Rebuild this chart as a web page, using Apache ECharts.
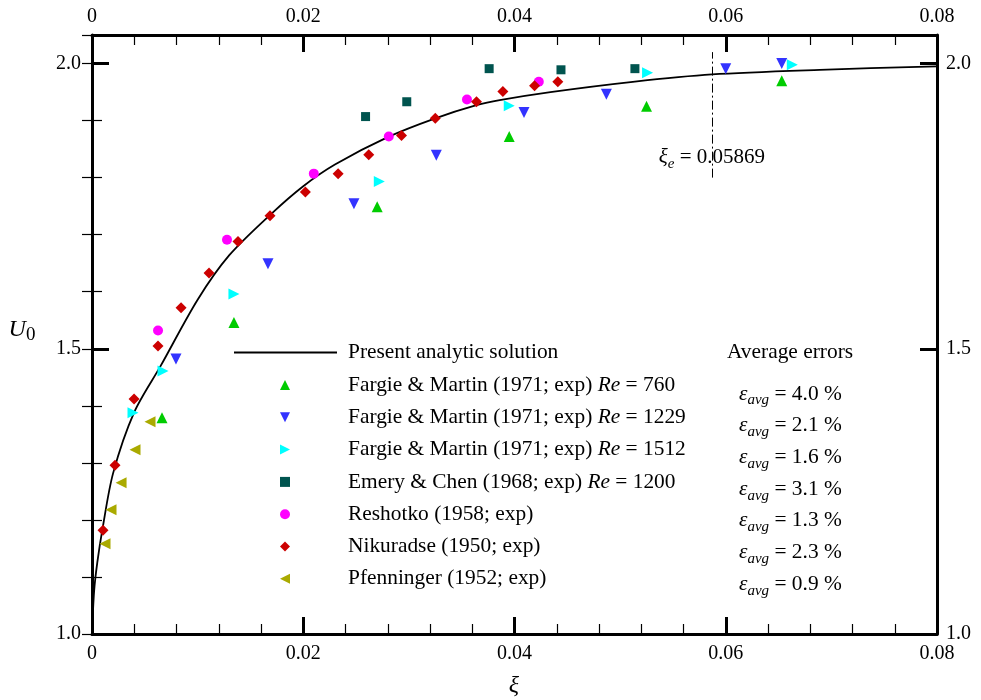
<!DOCTYPE html>
<html><head><meta charset="utf-8">
<script src="https://cdn.jsdelivr.net/npm/echarts@6/dist/echarts.min.js"></script>
<style>html,body{margin:0;padding:0;background:#fff}#c{width:981px;height:700px}</style>
</head><body><div id="c"></div>
<script>
const FONT = '"Liberation Serif","Times New Roman",serif';

// ---- data ----
const curveX = [0, 0.0002, 0.0005, 0.001, 0.002, 0.004, 0.0065, 0.010, 0.013, 0.017, 0.020, 0.023, 0.028, 0.0325, 0.0364, 0.0386, 0.0434, 0.0512, 0.0587, 0.0689, 0.080];
const curveY = [1.0, 1.075, 1.125, 1.185, 1.282, 1.389, 1.470, 1.586, 1.664, 1.737, 1.785, 1.823, 1.871, 1.904, 1.927, 1.936, 1.950, 1.968, 1.981, 1.989, 1.995];

const fm760X = [0.00663, 0.01344, 0.0270, 0.0395, 0.0525, 0.0653];
const fm760Y = [1.379, 1.546, 1.749, 1.872, 1.925, 1.970];
const fm1229X = [0.00795, 0.01666, 0.0248, 0.0326, 0.0409, 0.0487, 0.0600, 0.0653];
const fm1229Y = [1.482, 1.649, 1.754, 1.839, 1.914, 1.946, 1.991, 2.000];
const fm1512X = [0.00388, 0.00672, 0.01344, 0.0272, 0.0395, 0.0526, 0.0663];
const fm1512Y = [1.388, 1.461, 1.596, 1.793, 1.926, 1.984, 1.998];
const emeryX = [0.0259, 0.0298, 0.0376, 0.0444, 0.0514];
const emeryY = [1.907, 1.933, 1.991, 1.989, 1.991];
const reshotkoX = [0.00625, 0.01278, 0.0210, 0.0281, 0.0355, 0.0423];
const reshotkoY = [1.532, 1.691, 1.807, 1.872, 1.937, 1.968];
const nikuradseX = [0.00104, 0.00218, 0.00398, 0.00625, 0.00843, 0.01108, 0.01382, 0.01685, 0.0202, 0.0233, 0.0262, 0.0293, 0.0325, 0.0364, 0.0389, 0.0419, 0.0441];
const nikuradseY = [1.182, 1.296, 1.412, 1.505, 1.572, 1.633, 1.688, 1.733, 1.775, 1.807, 1.840, 1.874, 1.904, 1.933, 1.951, 1.961, 1.968];
const pfenX = [0.00123, 0.0018, 0.00275, 0.00407, 0.00549];
const pfenY = [1.158, 1.218, 1.265, 1.323, 1.372];

const xiE = 0.05869;
const xiELineY = [1.80, 2.02];
const avgErrors = ['4.0', '2.1', '1.6', '3.1', '1.3', '2.3', '0.9'];

const xTicks = [0, 0.02, 0.04, 0.06, 0.08];
const xTickLabels = ['0', '0.02', '0.04', '0.06', '0.08'];
const yTicks = [1.0, 1.5, 2.0];
const yTickLabels = ['1.0', '1.5', '2.0'];

const curveName = 'Present analytic solution';
const seriesNames = [
  'Fargie & Martin (1971; exp) Re = 760',
  'Fargie & Martin (1971; exp) Re = 1229',
  'Fargie & Martin (1971; exp) Re = 1512',
  'Emery & Chen (1968; exp) Re = 1200',
  'Reshotko (1958; exp)',
  'Nikuradse (1950; exp)',
  'Pfenninger (1952; exp)'
];

// ---- build ----
const zip = (a, b) => a.map((v, i) => [v, b[i]]);
const findLabel = (v, ticks, labels) => {
  for (let i = 0; i < ticks.length; i++) if (Math.abs(v - ticks[i]) < 1e-9) return labels[i];
  return '';
};

const TRI_UP = 'path://M5,0 L10,10 L0,10 Z';
const TRI_DOWN = 'path://M0,0 L10,0 L5,10 Z';
const TRI_RIGHT = 'path://M0,0 L10,5 L0,10 Z';
const TRI_LEFT = 'path://M10,0 L10,10 L0,5 Z';

const scatterDefs = [
  {x: fm760X, y: fm760Y, symbol: 'triangle', size: 11, rot: 0, color: '#00cc00', icon: TRI_UP},
  {x: fm1229X, y: fm1229Y, symbol: 'triangle', size: 11, rot: 180, color: '#3333ff', icon: TRI_DOWN},
  {x: fm1512X, y: fm1512Y, symbol: 'triangle', size: 11, rot: -90, color: '#00ffff', icon: TRI_RIGHT},
  {x: emeryX, y: emeryY, symbol: 'rect', size: 9, rot: 0, color: '#00544f', icon: 'rect'},
  {x: reshotkoX, y: reshotkoY, symbol: 'circle', size: 10, rot: 0, color: '#ff00ff', icon: 'circle'},
  {x: nikuradseX, y: nikuradseY, symbol: 'diamond', size: 11, rot: 0, color: '#cc0000', icon: 'diamond'},
  {x: pfenX, y: pfenY, symbol: 'triangle', size: 11, rot: 90, color: '#aaaa00', icon: TRI_LEFT}
];

const tickLabelStyle = {color: '#000', fontFamily: FONT, fontSize: 20};
const TXT = 21.4;

function xAxisDef(pos, margin) {
  return {
    type: 'value', position: pos, min: 0, max: 0.08, interval: 0.02,
    axisLine: {show: true, onZero: false, lineStyle: {color: '#000', width: 3}},
    axisTick: {show: true, inside: true, length: 17, lineStyle: {color: '#000', width: 3}},
    minorTick: {show: true, splitNumber: 5, length: 10, lineStyle: {color: '#000', width: 1.2}},
    splitLine: {show: false}, minorSplitLine: {show: false},
    axisLabel: Object.assign({margin: margin, formatter: v => findLabel(v, xTicks, xTickLabels)}, tickLabelStyle)
  };
}
function yMajorDef(pos, margin) {
  return {
    type: 'value', position: pos, min: 1, max: 2.05, interval: 0.5,
    axisLine: {show: true, onZero: false, lineStyle: {color: '#000', width: 3}},
    axisTick: {show: true, inside: true, length: 17, lineStyle: {color: '#000', width: 3}},
    splitLine: {show: false},
    axisLabel: Object.assign({margin: margin, showMaxLabel: false, formatter: v => findLabel(v, yTicks, yTickLabels)}, tickLabelStyle)
  };
}
function yMinorDef(pos) {
  return {
    type: 'value', position: pos, min: 1, max: 2.05, interval: 0.1, offset: 0,
    axisLine: {show: false},
    axisTick: {show: true, inside: true, length: 10, lineStyle: {color: '#000', width: 1.2}},
    splitLine: {show: false},
    axisLabel: {show: false}
  };
}

const series = [{
  type: 'line', name: curveName, data: zip(curveX, curveY),
  symbol: 'none', smooth: 0.3,
  lineStyle: {color: '#000', width: 1.8}, itemStyle: {color: '#000'}, z: 2, silent: true,
  markLine: {
    silent: true, symbol: 'none', label: {show: false},
    lineStyle: {color: '#000', width: 1, type: [9, 3, 2, 3]},
    data: [[{coord: [xiE, xiELineY[0]]}, {coord: [xiE, xiELineY[1]]}]]
  }
}];
scatterDefs.forEach((d, i) => {
  series.push({
    type: 'scatter', name: seriesNames[i], data: zip(d.x, d.y),
    symbol: d.symbol, symbolSize: d.size, symbolRotate: d.rot,
    itemStyle: {color: d.color, borderWidth: 0, opacity: 1}, z: 3
  });
});

const legendText = {
  fontFamily: FONT, fontSize: TXT, lineHeight: 22, color: '#000',
  rich: {i: {fontFamily: FONT, fontSize: TXT, lineHeight: 22, fontStyle: 'italic', color: '#000'}}
};

const chart = echarts.init(document.getElementById('c'), null, {renderer: 'canvas'});
chart.setOption({
  animation: false,
  backgroundColor: '#fff',
  grid: {left: 92, right: 44, top: 35, bottom: 66, containLabel: false},
  xAxis: [xAxisDef('bottom', 10), xAxisDef('top', 8)],
  yAxis: [yMajorDef('left', 11), yMinorDef('left'), yMajorDef('right', 9), yMinorDef('right')],
  legend: [
    {
      data: [{name: curveName, icon: 'rect', itemStyle: {color: '#000', borderWidth: 0}}],
      orient: 'vertical', left: 234, top: 341.5, padding: 0,
      itemWidth: 103, itemHeight: 2, selectedMode: false,
      textStyle: Object.assign({}, legendText, {padding: [0, 0, 0, 6]})
    },
    {
      data: seriesNames.map((n, i) => ({name: n, icon: scatterDefs[i].icon, itemStyle: {color: scatterDefs[i].color, borderWidth: 0, opacity: 1}})),
      orient: 'vertical', left: 280, top: 374, padding: 0,
      itemWidth: 10, itemHeight: 10, itemGap: 10.3, selectedMode: false,
      formatter: n => n.replace('Re =', '{i|Re} ='),
      textStyle: Object.assign({}, legendText, {padding: [0, 0, 0, 53]})
    }
  ],
  series: series
});

// ---- texts ----
const sub = {fontFamily: FONT, fontSize: 15, fontStyle: 'italic', lineHeight: 14, verticalAlign: 'bottom', fill: '#000'};
const graphics = [];
graphics.push({
  type: 'text', x: 727, y: 352,
  style: {text: 'Average errors', fontFamily: FONT, fontSize: TXT, fill: '#000', align: 'left', verticalAlign: 'middle'}
});
avgErrors.forEach((e, i) => {
  graphics.push({
    type: 'text', x: 739, y: 394 + i * 31.7,
    style: {
      text: '{e|ε}{s|avg}{n| = ' + e + ' %}',
      align: 'left', verticalAlign: 'middle',
      rich: {
        e: {fontFamily: FONT, fontSize: TXT, fontStyle: 'italic', lineHeight: 28, fill: '#000'},
        s: sub,
        n: {fontFamily: FONT, fontSize: TXT, lineHeight: 28, fill: '#000'}
      }
    }
  });
});
const p = chart.convertToPixel({xAxisIndex: 0, yAxisIndex: 0}, [xiE, 1.836]);
graphics.push({
  type: 'text', x: p[0], y: p[1],
  style: {
    text: '{g|ξ}{s|e}{n| = 0.05869}', align: 'center', verticalAlign: 'middle',
    rich: {
      g: {fontFamily: FONT, fontSize: 21, fontStyle: 'italic', lineHeight: 28, fill: '#000'},
      s: sub,
      n: {fontFamily: FONT, fontSize: 21, lineHeight: 28, fill: '#000'}
    }
  }
});
graphics.push({
  type: 'text', x: 22, y: 330,
  style: {
    text: '{u|U}{s|0}', align: 'center', verticalAlign: 'middle',
    rich: {
      u: {fontFamily: FONT, fontSize: 24, fontStyle: 'italic', lineHeight: 30, fill: '#000'},
      s: {fontFamily: FONT, fontSize: 19, lineHeight: 18, verticalAlign: 'bottom', fill: '#000'}
    }
  }
});
graphics.push({
  type: 'text', x: 514, y: 686,
  style: {text: 'ξ', fontFamily: FONT, fontSize: 24, fontStyle: 'italic', fill: '#000', align: 'center', verticalAlign: 'middle'}
});
chart.setOption({graphic: graphics});
</script></body></html>
